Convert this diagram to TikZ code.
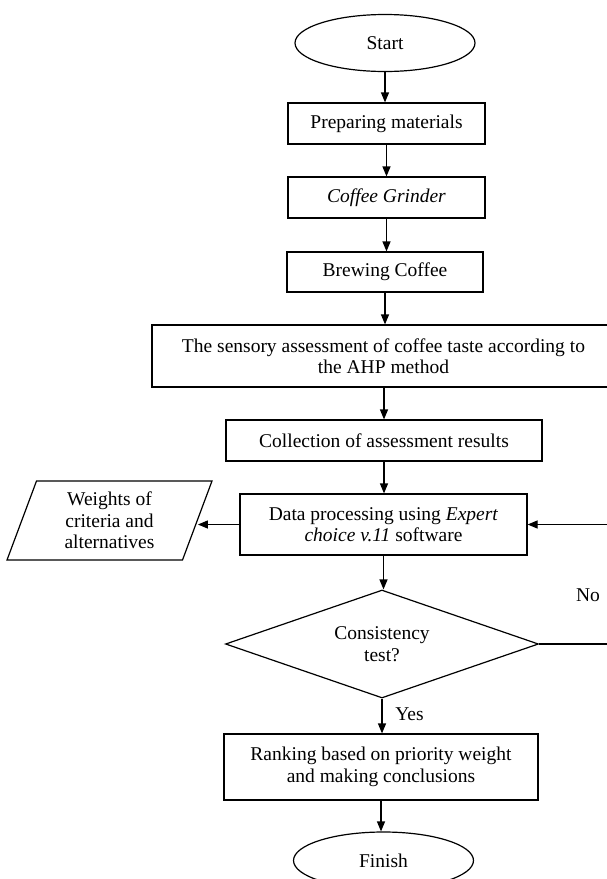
\documentclass[tikz,border=0pt]{standalone}
\usepackage{fontspec}
\setmainfont{Liberation Serif}
\usetikzlibrary{shapes.geometric,arrows.meta}

\tikzset{
  txt/.style={font=\fontsize{19.5}{21.5}\selectfont},
  proc/.style={txt,draw,line width=1.2pt,rectangle,align=center,inner sep=0pt},
  term/.style={txt,draw,line width=1.2pt,ellipse,inner sep=0pt,minimum width=180pt,minimum height=57pt},
  decide/.style={txt,draw,line width=1.2pt,diamond,aspect=2.9,inner sep=0pt,minimum width=313pt,minimum height=108pt,align=center},
  iobox/.style={txt,draw,line width=1.2pt,trapezium,trapezium left angle=62.6,trapezium right angle=117.4,trapezium stretches body,minimum width=205pt,minimum height=79pt,inner sep=0pt,align=center},
  arr/.style={line width=1.2pt,-{Triangle[length=10pt,width=8pt]}}
}

\begin{document}
\begin{tikzpicture}[x=1pt,y=-1pt]
\useasboundingbox (0,0) rectangle (607,879);

\node[term] (start) at (385,43) {Start};
\node[proc,minimum width=197pt,minimum height=41pt] (prep) at (386.5,123.5) {Preparing materials};
\node[proc,minimum width=197pt,minimum height=41pt] (grind) at (386.5,197.5) {\textit{Coffee Grinder}};
\node[proc,minimum width=196pt,minimum height=40pt] (brew) at (385,272) {Brewing Coffee};
\node[proc,minimum width=463pt,minimum height=62pt] (sens) at (383.5,356) {The sensory assessment of coffee taste according to\\the AHP method};
\node[proc,minimum width=316pt,minimum height=41pt] (collect) at (384,440.5) {Collection of assessment results};
\node[proc,minimum width=287pt,minimum height=61pt] (data) at (383.5,524.5) {Data processing using \textit{Expert}\\\textit{choice v.11} software};
\node[iobox] (weights) at (109.5,520.5) {Weights of\\criteria and\\alternatives};
\node[decide] (test) at (382,644) {Consistency\\test?};
\node[proc,minimum width=314pt,minimum height=66pt] (rank) at (381,767) {Ranking based on priority weight\\and making conclusions};
\node[term] (finish) at (383.5,860.5) {Finish};

\node[txt] (no) at (588,595) {No};
\node[txt] (yes) at (409.5,714) {Yes};
\coordinate (back) at (625,600);

\draw[arr] (start) -- (start |- prep.north);
\draw[arr] (prep) -- (prep |- grind.north);
\draw[arr] (grind) -- (grind |- brew.north);
\draw[arr] (brew) -- (brew |- sens.north);
\draw[arr] (collect |- sens.south) -- (collect);
\draw[arr] (collect) -- (collect |- data.north);
\draw[arr] (data.west) -- (data.west -| weights.east);
\draw[arr] (data) -- (data |- test.north);
\draw[arr] (test.east) -| (back) |- (data.east);
\draw[arr] (test) -- (test |- rank.north);
\draw[arr] (rank) -- (rank |- finish.north);

\end{tikzpicture}
\end{document}
